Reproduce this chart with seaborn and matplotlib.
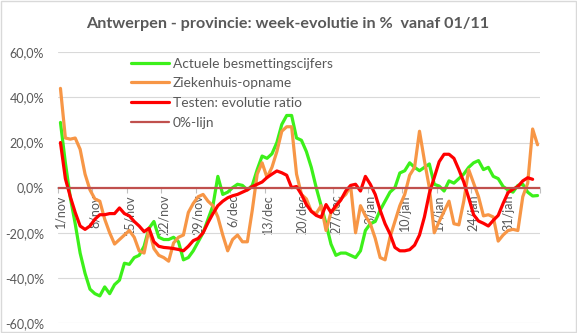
import numpy as np
import pandas as pd
import matplotlib
matplotlib.use("Agg")
import matplotlib.pyplot as plt
import seaborn as sns
from matplotlib.patches import Rectangle
from matplotlib.ticker import FuncFormatter

# ---------------- data (values in %) ----------------
tick_labels = ["1/nov", "8/nov", "15/nov", "22/nov", "29/nov", "6/dec", "13/dec",
               "20/dec", "27/dec", "3/jan", "10/jan", "17/jan", "24/jan", "31/jan"]

besmettingen = [28.9, 11, -4.4, -16, -29, -38, -45, -47, -48, -44,
                -47, -43, -41, -33.5, -34, -31, -30, -26, -18, -15,
                -22, -23, -23, -22, -24, -32, -31, -28, -24, -20,
                -14, -8, 5, -3, -2, 0, 1.5, 1, -1, 1,
                8, 14, 13, 15, 20, 28, 32, 32, 22, 21,
                16, 9, 0, -8, -16, -25, -30, -29, -29, -30,
                -31, -28, -19, -16, -15, -10, -6, -2, 0, 6.5,
                7.5, 11, 9, 7.5, 9, 10.5, 1.5, 0.7, -1.5, 3,
                2, 4, 6, 9, 11, 12, 8, 9, 5, 4,
                0.5, -1, -2, 1, 1.5, -2, -3.7, -3.5]

ziekenhuis = [44, 22, 21.5, 22, 17, 6, -1, -5, -6, -14,
              -20, -25, -23, -21, -19, -22, -28, -29, -18.5, -27,
              -30, -31, -32.6, -24.5, -22, -21, -11, -7, -4, -3,
              -6, -8, -13, -21, -28, -23, -21, -24, -24, -10,
              6, 11, 4.5, 9, 16, 25, 27, 27, 6, -3,
              -5, -10.5, -11.5, -8, -19, -11, -9, -5, -3, 0.7,
              -20, -8, -12.5, -16, -22.5, -31, -32, -22, -15, -8,
              -3, 5.5, 9, 25, 12, 0, -20, -15, -10.5, -6,
              -16, -16.5, -6, 8, 2, -4, -12.5, -12, -13, -23.7,
              -21, -19, -18.5, -19, -4, 2, 26, 19]

testen = [20, 4, -4, -11, -17, -18.5, -17, -14, -12, -12,
          -11.5, -11.5, -9, -11.5, -12.5, -15, -17, -19.5, -18, -24,
          -26, -26.5, -26.7, -27, -27.4, -28, -26, -23.5, -22.5, -20,
          -15.5, -11.5, -8, -6, -4.5, -3.6, -3, -2, -1, 0.5,
          1.5, 2.5, 4.5, 6, 7.4, 6.6, 5.5, 0, 0.5, -3,
          -7.5, -10.5, -12.3, -13.2, -7.5, -11, -8, -5.5, -1.5, 1,
          1.5, -1.5, 5, 1.5, -3, -10, -16, -20.5, -26.5, -28,
          -28, -27.5, -25.5, -21, -13, -2.5, 4.5, 11.5, 14.8, 14.8,
          13, 8, 2.5, -4.5, -12, -14.8, -15.8, -17, -14.5, -12.3,
          -7, -2.2, -0.7, 0.5, 3, 4.4, 3.7, np.nan]

series_names = ["Actuele besmettingscijfers", "Ziekenhuis-opname",
                "Testen: evolutie ratio", "0%-lijn"]
colors = ["#3CF01A", "#F79646", "#FF0000", "#C0504D"]
title = "Antwerpen - provincie: week-evolutie in %  vanaf 01/11"

# ---------------- plotting ----------------
sns.set_theme(style="white")
plt.rcParams["font.family"] = ["Lato", "DejaVu Sans"]

days = np.arange(len(besmettingen))
df = pd.DataFrame({"dag": days,
                   series_names[0]: besmettingen,
                   series_names[1]: ziekenhuis,
                   series_names[2]: testen})

W, H = 577, 333
fig = plt.figure(figsize=(W / 100, H / 100), dpi=100)
fig.patch.set_facecolor("white")
ax = fig.add_axes([58 / W, 1 - 323 / H, (540 - 58) / W, (323 - 52.3) / H])

for name, col in zip(series_names[:3], colors[:3]):
    sns.lineplot(data=df, x="dag", y=name, ax=ax, color=col, lw=2.3,
                 label=name, zorder=3)
ax.axhline(0, color=colors[3], lw=1.6, label=series_names[3], zorder=4)

ax.set_xlim(-0.5, len(days) - 0.5)
ax.set_ylim(-60, 60)
ax.set_yticks(np.arange(-60, 61, 20))
ax.yaxis.set_major_formatter(FuncFormatter(lambda v, p: f"{v:.1f}%".replace(".", ",")))
ax.grid(axis="y", color="#D9D9D9", lw=0.8)
ax.set_axisbelow(True)
ax.set_xlabel("")
ax.set_ylabel("")

for s in ["left", "right", "top"]:
    ax.spines[s].set_visible(False)
ax.spines["bottom"].set_position(("data", 0))
ax.spines["bottom"].set_color("#BFBFBF")
ax.spines["bottom"].set_zorder(1)

major = days[::7]
ax.set_xticks(major)
ax.set_xticklabels(tick_labels, rotation=90)
ax.set_xticks(np.arange(-0.5, len(days), 7), minor=True)
ax.tick_params(axis="x", which="major", length=0, pad=5, labelsize=9,
               labelcolor="#595959")
ax.tick_params(axis="x", which="minor", length=3.5, width=0.8, color="#BFBFBF",
               bottom=True)
ax.tick_params(axis="y", length=0, pad=10, labelsize=9, labelcolor="#595959")

leg = ax.legend(loc="upper left", bbox_to_anchor=(131 / W, 1 - 57.5 / H),
                bbox_transform=fig.transFigure, frameon=False, fontsize=9.9,
                handlelength=2.75, handletextpad=0.3, labelspacing=0.56,
                borderpad=0, borderaxespad=0)
for t in leg.get_texts():
    t.set_color("#595959")

fig.text(0.498, 1 - 24 / H, title, ha="center", va="center", fontsize=11.6,
         fontweight="bold", color="#595959")

fig.patches.append(Rectangle((0.001, 0.002), 0.997, 0.995, transform=fig.transFigure,
                             fill=False, edgecolor="#D9D9D9", lw=1))

fig.savefig("out.png", dpi=100)
